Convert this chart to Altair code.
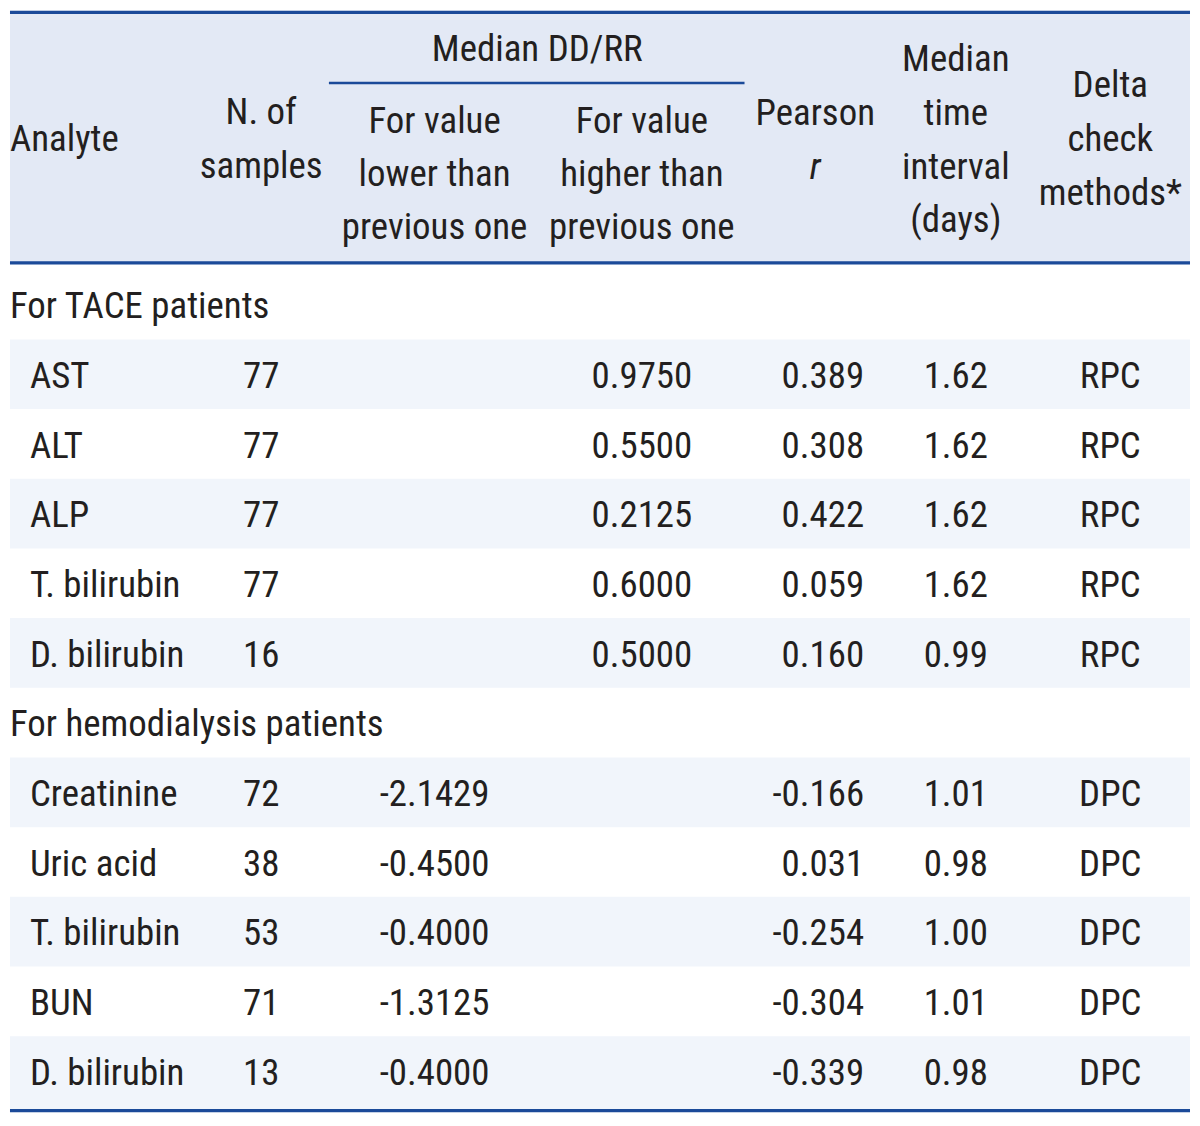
import altair as alt
import pandas as pd

sections = ["For TACE patients", "For hemodialysis patients"]

tace_analytes = ["AST", "ALT", "ALP", "T. bilirubin", "D. bilirubin"]
tace_n = [77, 77, 77, 77, 16]
tace_higher = [0.9750, 0.5500, 0.2125, 0.6000, 0.5000]
tace_pearson = [0.389, 0.308, 0.422, 0.059, 0.160]
tace_interval = [1.62, 1.62, 1.62, 1.62, 0.99]
tace_method = ["RPC", "RPC", "RPC", "RPC", "RPC"]

hd_analytes = ["Creatinine", "Uric acid", "T. bilirubin", "BUN", "D. bilirubin"]
hd_n = [72, 38, 53, 71, 13]
hd_lower = [-2.1429, -0.4500, -0.4000, -1.3125, -0.4000]
hd_pearson = [-0.166, 0.031, -0.254, -0.304, -0.339]
hd_interval = [1.01, 0.98, 1.00, 1.01, 0.98]
hd_method = ["DPC", "DPC", "DPC", "DPC", "DPC"]

hdr_analyte = ["Analyte"]
hdr_n = ["N. of", "samples"]
hdr_group = ["Median DD/RR"]
hdr_lower = ["For value", "lower than", "previous one"]
hdr_higher = ["For value", "higher than", "previous one"]
hdr_pearson = ["Pearson", "r"]
hdr_interval = ["Median", "time", "interval", "(days)"]
hdr_method = ["Delta", "check", "methods*"]

# ---------------- layout (reference pixel frame) ----------------
W, H = 1184, 1105
FONT = ("Noto Sans ExtraCondensed, Noto Sans Condensed, Liberation Sans Narrow, "
        "Roboto Condensed, Open Sans Condensed, DejaVu Sans Condensed, sans-serif")
FS = 37
TXT = "#231f20"
LINE = "#1b4a99"
HDR_BG = "#e3e9f5"
ROW_BG = "#f1f5fb"

X_L, X_R = 8, 1192
X_SECTION, X_ANALYTE = 8, 28
X_N, X_LOWER, X_HIGHER, X_PEARSON_R, X_INT, X_METH = 260, 434, 642, 865, 957, 1112
X_PEARSON_HDR = 816
ROW0, ROW_H = 301.5, 71.05
BASE_OFF = 14

xs = alt.Scale(domain=[X_L, X_R], nice=False, zero=False)
ys = alt.Scale(domain=[2, 1125], nice=False, zero=False, reverse=True)


def fmt(v, d):
    return f"{v:.{d}f}"


body = []
shade = []
i = 0
groups = [
    (sections[0], tace_analytes, tace_n, [None] * 5, tace_higher, tace_pearson, tace_interval, tace_method),
    (sections[1], hd_analytes, hd_n, hd_lower, [None] * 5, hd_pearson, hd_interval, hd_method),
]
for sec, an, nn, lo, hi, pr, it, me in groups:
    c = ROW0 + ROW_H * i
    body.append(dict(x=X_SECTION, y=c + BASE_OFF, t=sec, a="left"))
    i += 1
    for j in range(len(an)):
        c = ROW0 + ROW_H * i
        yb = c + BASE_OFF
        body.append(dict(x=X_ANALYTE, y=yb, t=an[j], a="left"))
        body.append(dict(x=X_N, y=yb, t=str(nn[j]), a="center"))
        if lo[j] is not None:
            body.append(dict(x=X_LOWER, y=yb, t=fmt(lo[j], 4), a="center"))
        if hi[j] is not None:
            body.append(dict(x=X_HIGHER, y=yb, t=fmt(hi[j], 4), a="center"))
        body.append(dict(x=X_PEARSON_R, y=yb, t=fmt(pr[j], 3), a="right"))
        body.append(dict(x=X_INT, y=yb, t=fmt(it[j], 2), a="center"))
        body.append(dict(x=X_METH, y=yb, t=me[j], a="center"))
        if j % 2 == 0:
            top = c - ROW_H / 2
            bot = c + ROW_H / 2
            if i == 11:
                bot = 1122
            shade.append(dict(x=X_L, x2=X_R, y=top, y2=bot))
        i += 1

hdr = []
def add_lines(lines, x, first, step, align="center", italic_last=False):
    for k, t in enumerate(lines):
        hdr.append(dict(x=x, y=first + step * k, t=t, a=align,
                        s="italic" if (italic_last and k == len(lines) - 1) else "normal"))

add_lines(hdr_analyte, X_SECTION, 145, 55, align="left")
add_lines(hdr_n, X_N, 117, 55)
add_lines(hdr_group, 537, 53, 55)
add_lines(hdr_lower, X_LOWER, 127, 54)
add_lines(hdr_higher, X_HIGHER, 127, 54)
add_lines(hdr_pearson, X_PEARSON_HDR, 118, 55, italic_last=True)
add_lines(hdr_interval, X_INT, 63, 55)
add_lines(hdr_method, X_METH, 90, 55)

body_df = pd.DataFrame(body)
hdr_df = pd.DataFrame(hdr)
shade_df = pd.DataFrame(shade)

bg_df = pd.DataFrame([dict(x=X_L, x2=X_R, y=2, y2=259)])
rules_df = pd.DataFrame([
    dict(x=X_L, x2=X_R, y=3.6, w=3.2),
    dict(x=X_L, x2=X_R, y=259, w=3.2),
    dict(x=X_L, x2=X_R, y=1123.5, w=3.2),
    dict(x=328, x2=745, y=75.5, w=2.5),
])

bg = alt.Chart(bg_df).mark_rect(color=HDR_BG).encode(
    x=alt.X("x:Q", scale=xs, axis=None), x2="x2:Q",
    y=alt.Y("y:Q", scale=ys, axis=None), y2="y2:Q")
sh = alt.Chart(shade_df).mark_rect(color=ROW_BG).encode(
    x=alt.X("x:Q", scale=xs, axis=None), x2="x2:Q",
    y=alt.Y("y:Q", scale=ys, axis=None), y2="y2:Q")
rl = alt.Chart(rules_df).mark_rule(color=LINE).encode(
    x=alt.X("x:Q", scale=xs, axis=None), x2="x2:Q",
    y=alt.Y("y:Q", scale=ys, axis=None),
    strokeWidth=alt.StrokeWidth("w:Q", scale=None, legend=None))


def text_layer(df, align, style="normal"):
    return alt.Chart(df).mark_text(
        align=align, baseline="alphabetic", font=FONT, fontSize=FS,
        fontStyle=style, color=TXT).encode(
        x=alt.X("x:Q", scale=xs, axis=None),
        y=alt.Y("y:Q", scale=ys, axis=None),
        text="t:N")

layers = [bg, sh, rl]
for a in ["left", "center", "right"]:
    d = body_df[body_df.a == a]
    if len(d):
        layers.append(text_layer(d, a))
    for s in ["normal", "italic"]:
        d = hdr_df[(hdr_df.a == a) & (hdr_df.s == s)]
        if len(d):
            layers.append(text_layer(d, a, s))

chart = alt.layer(*layers).properties(
    width=W, height=H, padding=0, background="white"
).configure_view(stroke=None)

chart.save("out.html", embed_options={"renderer": "svg", "actions": False})
